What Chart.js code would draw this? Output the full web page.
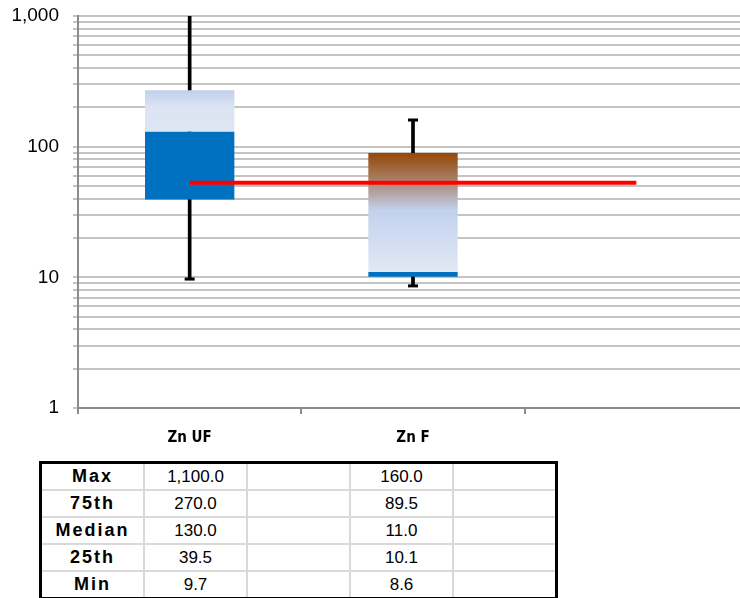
<!DOCTYPE html>
<html>
<head>
<meta charset="utf-8">
<script src="https://cdn.jsdelivr.net/npm/chart.js@4/dist/chart.umd.min.js"></script>
<style>
  html, body { margin: 0; padding: 0; background: #fff; overflow: hidden; width: 740px; height: 598px; }
  #wrap { position: absolute; left: 0; top: 0; width: 740px; height: 455px; overflow: hidden; }
  #c { display: block; }
  #tbl { position: absolute; left: 39px; top: 461px; border-collapse: collapse; border: 3px solid #000;
         font-family: "Liberation Sans", Arial, sans-serif; font-size: 17px; color: #000; }
  #tbl td { border: 2px solid #d9d9d9; width: 101px; height: 25px; padding: 0; text-align: center; }
  #tbl td.h { font-weight: bold; letter-spacing: 2px; font-size: 18px; }
</style>
</head>
<body>
<div id="wrap"><canvas id="c" width="748" height="455"></canvas></div>
<table id="tbl"></table>
<script>
// ---- data ----
const categories = ['Zn UF', 'Zn F', ''];
const maxV    = [1100, 160, null];
const p75     = [270, 89.5, null];
const median  = [130, 11, null];
const p25     = [39.5, 10.1, null];
const minV    = [9.7, 8.6, null];
const refLine = [53, 53, 53];
const yMajorTicks = [1, 10, 100, 1000];
const rowLabels = ['Max', '75th', 'Median', '25th', 'Min'];
const rowValues = [maxV, p75, median, p25, minV];

// ---- table ----
const fmt = v => v == null ? '' : v.toLocaleString('en-US', { minimumFractionDigits: 1, maximumFractionDigits: 1 });
const tbl = document.getElementById('tbl');
rowLabels.forEach((lab, r) => {
  const tr = document.createElement('tr');
  const th = document.createElement('td'); th.className = 'h'; th.textContent = lab; tr.appendChild(th);
  [0, 1].forEach(i => {
    const a = document.createElement('td'); a.textContent = fmt(rowValues[r][i]); tr.appendChild(a);
    const b = document.createElement('td'); tr.appendChild(b);
  });
  tbl.appendChild(tr);
});

// ---- gradients ----
function vGrad(ctx, lo, hi, stops, fallback) {
  const chart = ctx.chart;
  const y = chart.scales && chart.scales.y;
  if (!chart.chartArea || !y || lo == null) return fallback;
  const top = y.getPixelForValue(hi), bot = y.getPixelForValue(lo);
  if (!isFinite(top) || !isFinite(bot)) return fallback;
  const g = chart.ctx.createLinearGradient(0, top, 0, bot);
  stops.forEach(s => g.addColorStop(s[0], s[1]));
  return g;
}
const upperStops = [
  [[0, '#c1cfec'], [0.4, '#dce4f3'], [1, '#dee6f4']],
  [[0, '#954707'], [0.2, '#a6795a'], [0.48, '#c2d1ee'], [1, '#e1e8f5']]
];

const lowerBox = p25.map((v, i) => v == null ? null : [v, median[i]]);
const upperBox = median.map((v, i) => v == null ? null : [v, p75[i]]);
const whisker  = minV.map((v, i) => v == null ? null : [v, maxV[i]]);

new Chart(document.getElementById('c'), {
  type: 'bar',
  data: {
    labels: categories,
    datasets: [
      { type: 'line', data: refLine, borderColor: '#ff0000', borderWidth: 4, pointRadius: 0, fill: false, order: 0 },
      { type: 'line', data: maxV, showLine: false, pointStyle: 'line', pointRadius: 5, borderColor: '#000', borderWidth: 3, order: 1 },
      { type: 'line', data: minV, showLine: false, pointStyle: 'line', pointRadius: 5, borderColor: '#000', borderWidth: 3, order: 1 },
      { data: lowerBox, backgroundColor: '#0070c0', grouped: false, barPercentage: 0.4, categoryPercentage: 1, borderWidth: 0, order: 2 },
      { data: upperBox, grouped: false, barPercentage: 0.4, categoryPercentage: 1, borderWidth: 0, order: 2,
        backgroundColor: ctx => vGrad(ctx, median[ctx.dataIndex], p75[ctx.dataIndex], upperStops[ctx.dataIndex] || upperStops[0], '#dce4f3') },
      { data: whisker, backgroundColor: '#000', grouped: false, barThickness: 3, borderWidth: 0, order: 3 }
    ]
  },
  options: {
    responsive: false,
    maintainAspectRatio: false,
    animation: false,
    events: [],
    layout: { autoPadding: false, padding: { top: 16, right: 0, bottom: 0, left: 0 } },
    plugins: { legend: { display: false }, tooltip: { enabled: false } },
    scales: {
      x: {
        type: 'category',
        offset: true,
        grid: { drawOnChartArea: false, drawTicks: true, tickLength: 6, color: '#8c8c8c', lineWidth: 2, offset: true },
        border: { color: '#8c8c8c', width: 2 },
        ticks: { color: '#000', padding: 15, font: { family: '"DejaVu Sans Condensed", "DejaVu Sans", sans-serif', size: 15, weight: 'bold' }, maxRotation: 0 },
        afterFit: s => { s.height = 47; s.paddingLeft = 0; s.paddingRight = 0; }
      },
      y: {
        type: 'logarithmic',
        min: 1, max: 1000,
        afterBuildTicks: s => {
          const t = [];
          for (let d = 1; d <= 100; d *= 10) for (let m = 1; m <= 9; m++) t.push({ value: m * d });
          t.push({ value: 1000 });
          s.ticks = t;
        },
        grid: { color: '#c4c4c4', lineWidth: 2, tickLength: 5 },
        border: { color: '#8c8c8c', width: 2 },
        ticks: {
          autoSkip: false, color: '#000', padding: 14,
          font: { family: '"Liberation Sans", Arial, sans-serif', size: 19 },
          callback: v => yMajorTicks.includes(v) ? v.toLocaleString('en-US') : ''
        },
        afterFit: s => { s.width = 78; s.paddingTop = 0; s.paddingBottom = 0; }
      }
    }
  }
});
</script>
</body>
</html>
